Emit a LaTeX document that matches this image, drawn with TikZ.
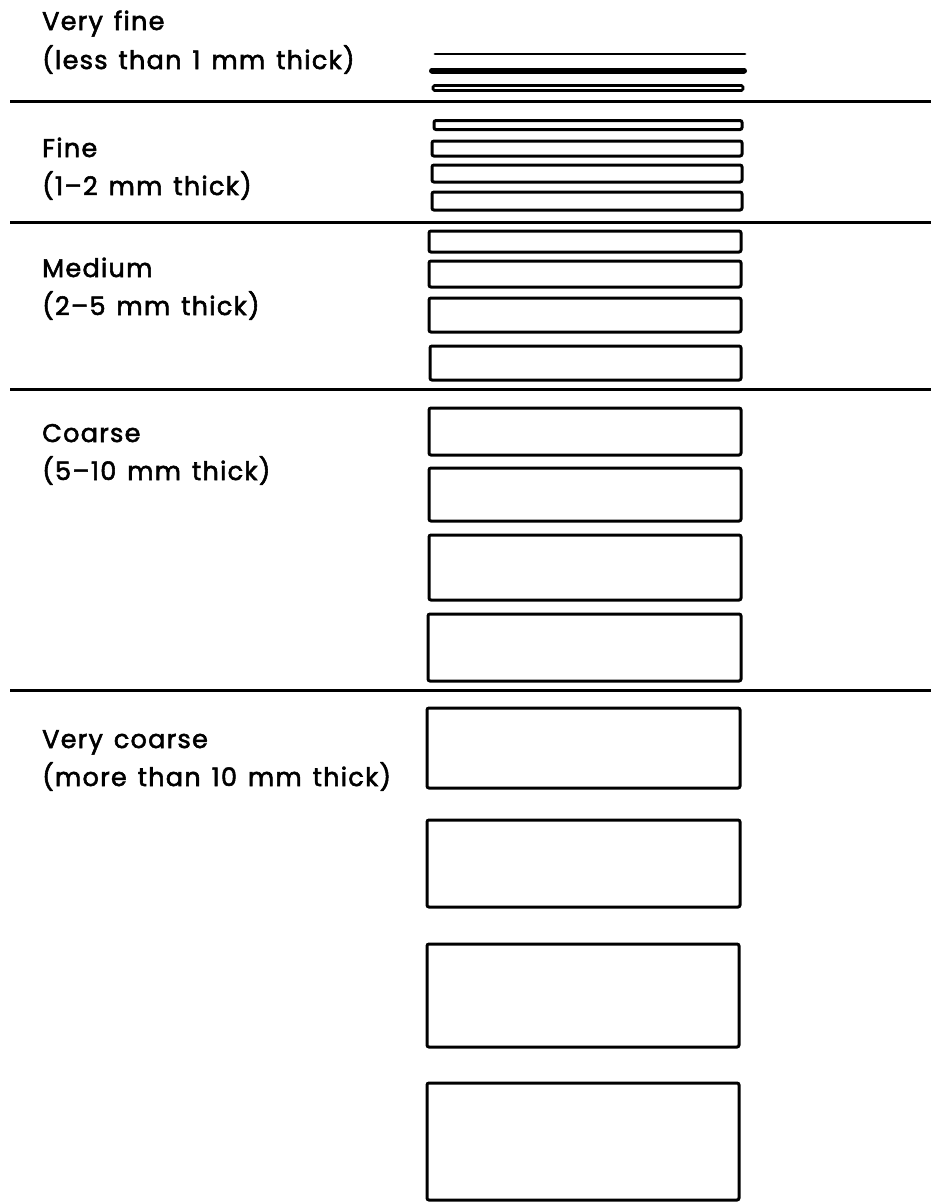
\documentclass[tikz,border=0pt]{standalone}
\usepackage{fontspec}
\setmainfont{Poppins}[FakeBold=2.2,LetterSpace=5,WordSpace=1.35]
\begin{document}
\begin{tikzpicture}[x=1pt,y=-1pt,
  bar/.style={draw=black,line width=3pt,rounded corners=2pt},
  sep/.style={draw=black,line width=3pt},
  lbl/.style={anchor=base west,inner sep=0pt,font=\fontsize{25.5}{30}\selectfont}]
\useasboundingbox (0,0) rectangle (931,1203);
% labels
\node[lbl] (vf1) at (42,30) {Very fine};
\node[lbl] (vf2) at (42,69) {(less than 1 mm thick)};
\node[lbl] (f1) at (42,157) {Fine};
\node[lbl] (f2) at (42,195) {(1–2 mm thick)};
\node[lbl] (m1) at (42,277) {Medium};
\node[lbl] (m2) at (42,315) {(2–5 mm thick)};
\node[lbl] (c1) at (42,442) {Coarse};
\node[lbl] (c2) at (42,480) {(5–10 mm thick)};
\node[lbl] (vc1) at (42,748) {Very coarse};
\node[lbl] (vc2) at (42,786) {(more than 10 mm thick)};
% separators
\foreach \y in {101,222,389,690} \draw[sep] (10,\y) -- (931,\y);
% very fine
\draw[line width=2.8pt,line cap=round] (435,54) -- (745,54);
\draw[line width=6pt,line cap=round] (432,70.5) -- (744,70.5);
\draw[bar,line width=2.8pt,rounded corners=1.5pt] (433,85.5) rectangle (743,90.5);
% fine
\draw[bar] (434,120.5) rectangle (742,129.5);
\draw[bar] (432,141) rectangle (742,156);
\draw[bar] (432,165) rectangle (742,182);
\draw[bar] (432,192) rectangle (742,210);
% medium
\draw[bar] (429,231) rectangle (741,252);
\draw[bar] (429,261) rectangle (741,287);
\draw[bar] (429,298) rectangle (741,332);
\draw[bar] (430,346) rectangle (741,380);
% coarse
\draw[bar] (429,408) rectangle (741,455);
\draw[bar] (429,468) rectangle (741,521);
\draw[bar] (429,535) rectangle (741,600);
\draw[bar] (428,614) rectangle (741,681);
% very coarse
\draw[bar] (427,708) rectangle (740,788);
\draw[bar] (427,820) rectangle (740,907);
\draw[bar] (427,944) rectangle (739,1047);
\draw[bar] (427,1083) rectangle (739,1200);
\end{tikzpicture}
\end{document}
